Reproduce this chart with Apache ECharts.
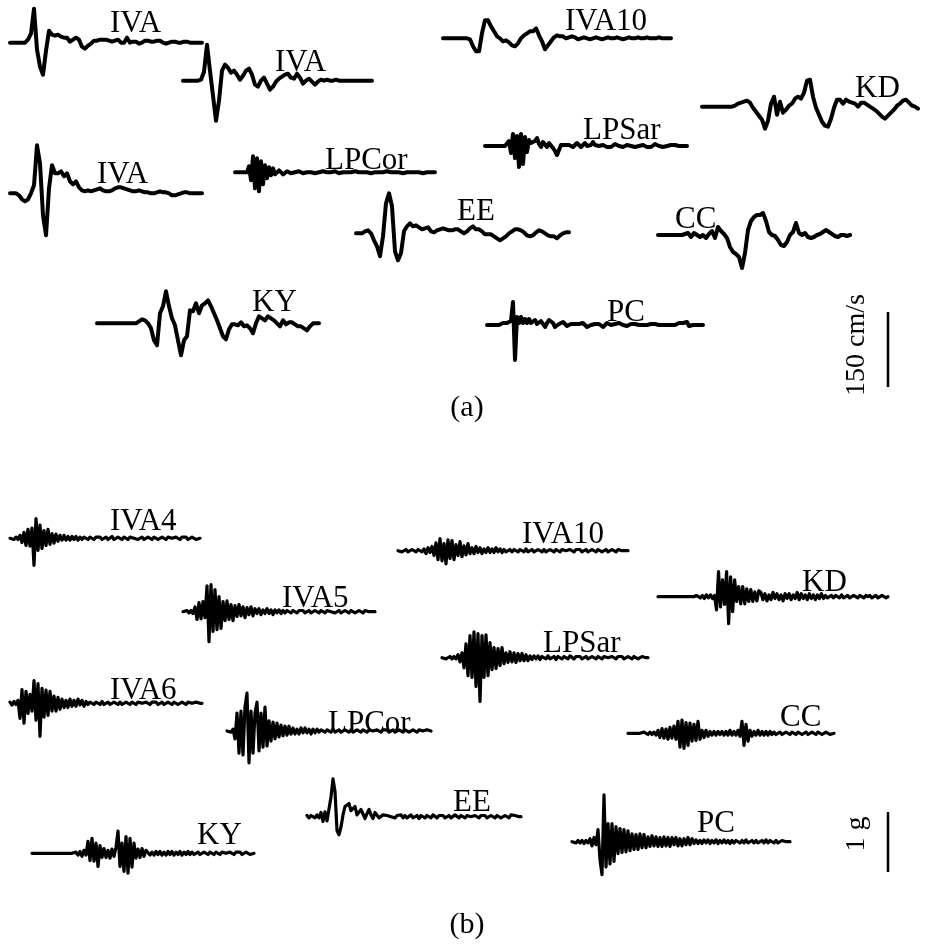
<!DOCTYPE html>
<html><head><meta charset="utf-8">
<script src="https://cdn.jsdelivr.net/npm/echarts@6/dist/echarts.min.js"></script>
<style>html,body{margin:0;padding:0;background:#fff}#c{width:933px;height:949px}</style>
</head><body><div id="c"></div>
<script>
// ---------- DATA ----------
// (a) ground velocity records, cm/s (uniform samples)
const velIVA_a = [0,0,0,0,0,0,6,18,68,-14,-48,-64,-16,24,16,14,16,12,10,10,2,6,10,6,-8,-12,-6,-2,4,4,6,6,6,4,2,4,6,0,0,10,0,2,2,-2,0,4,4,2,2,4,4,0,-2,0,2,2,0,0,2,2,0,0,0,0,0];
const velIVA_b = [0,0,0,0,0,0,2,18,72,20,-30,-80,-40,20,32,26,16,20,12,2,10,20,24,12,-8,-12,0,6,-6,-18,-12,-2,4,8,12,14,6,4,14,6,-6,0,4,-2,-8,-2,2,0,2,0,0,2,0,0,0,0,0,0,0,0,0,0,0,0];
const velIVA10 = [0,0,0,0,0,0,0,0,0,-2,-16,-26,-26,10,36,36,24,14,4,0,-6,-4,-8,-14,-16,-10,0,6,10,14,14,20,6,-6,-22,-14,-6,2,6,4,4,0,2,4,2,-2,0,2,0,-2,0,2,0,-2,0,2,0,0,2,0,-2,0,2,0,0,2,0,0,2,0,0,0,2,0,0,0,0];
const velKD = [0,0,0,0,0,0,0,0,0,0,0,2,6,8,10,12,8,-2,-10,-18,-26,-44,-28,6,20,-16,10,-12,-6,2,6,16,20,16,28,52,54,20,-2,-16,-30,-38,-40,-24,-2,14,14,6,14,10,8,6,0,8,8,4,0,-4,-8,-14,-20,-24,-18,-12,-6,2,6,12,14,8,2,0,-4];
const velLPSar = [0,0,0,0,0,0,0,0,0,0,0,-2,10,-14,24,-24,20,-42,24,-36,18,-12,12,6,6,10,16,4,-2,8,4,-2,6,2,-4,-10,-18,-8,2,6,2,-2,2,0,-2,2,6,2,-2,2,6,0,-4,2,8,2,-2,0,2,2,0,-2,-4,-2,2,4,4,0,-2,-2,0,2,2,0,-2,-2,-2,0,2,2,0,-2,-4,-2,2,4,4,0,-2,-2,0,0,0,2,2,2,2,0,0,0,0,0];
const velIVA_c = [0,0,0,-4,-12,-16,-12,0,16,96,60,-44,-84,10,56,40,40,44,34,40,24,18,24,12,6,4,6,4,6,8,10,6,4,4,6,10,12,12,10,8,6,4,4,6,4,2,2,0,0,2,4,2,2,0,-4,-4,-2,0,2,2,0,0,0,0,0];
const velLPCor = [0,0,0,0,0,0,0,12,-16,32,-32,28,-38,22,-24,14,-12,10,-6,8,-4,-2,4,2,-4,0,2,0,-2,-4,0,0,2,0,-2,0,0,2,0,0,-2,0,0,0,2,0,0,-2,0,0,2,0,-2,0,0,2,0,-2,0,0,2,0,0,-2,0,2,0,0,-2,0,0,2,0,-2,0,0,2,0,0,-2,0,2,0,0,-2,0,0,2,0,-2,0,2,0,0,-2,0,0,2,0,0,0];
const velEE = [0,0,0,4,6,0,-14,-26,-46,-6,60,80,54,-36,-54,-40,4,14,20,14,16,12,8,10,12,4,2,6,8,10,8,6,6,8,8,4,0,4,10,14,8,8,4,-2,-2,-2,-6,-10,-14,-10,-6,0,4,8,8,6,2,-4,-6,-4,2,6,4,0,-4,-6,-6,-10,-4,0,2,2];
const velCC = [0,0,0,0,0,0,0,0,0,2,4,-4,4,0,-4,0,-6,2,8,-6,16,8,2,-6,-24,-34,-38,-44,-66,-36,10,28,36,40,40,44,28,6,0,-2,-10,-20,-22,-14,0,6,24,4,0,4,-4,-6,-4,0,2,6,10,6,2,-2,-4,0,0,-2,0];
const velKY = [0,0,0,0,0,0,0,0,0,0,0,0,0,0,4,8,6,0,-10,-34,-44,20,34,64,34,10,-4,-34,-64,-34,-26,26,24,40,20,36,40,46,34,20,6,-10,-26,-32,-12,-2,-2,-4,2,-6,-4,-10,-20,0,14,10,6,14,10,6,0,-6,6,-2,2,2,-2,-6,-6,-10,-14,-6,0,0,0];
const velPC = [0,0,0,0,0,0,0,0,4,4,4,6,8,46,-70,16,4,16,4,12,4,12,4,6,10,2,2,8,6,-4,4,10,12,4,-4,0,2,6,6,4,-2,-2,2,4,2,0,2,4,4,0,-4,-2,0,0,2,4,2,-2,-4,0,4,2,0,0,2,2,4,2,0,-2,-2,0,2,4,2,0,0,0,0,0,0,2,2,4,2,0,0,0,0,0,0,0,0,0,0,2,4,4,4,6,6,-2,0,0,0,0,0,0,0];

// (b) ground acceleration records, g (uniform samples)
const accIVA4 = [0,0.02,-0.02,0.02,-0.02,0.05,-0.07,0.1,-0.12,0.15,-0.13,0.17,-0.45,0.33,-0.2,0.22,-0.17,0.13,-0.12,0.15,-0.1,0.08,-0.08,0.07,-0.05,0.05,-0.03,0.05,-0.03,0.03,-0.03,0.03,-0.02,0.03,-0.03,0.02,-0.02,0.02,0,-0.02,0.02,0,-0.02,0.02,0,0.02,-0.02,0,0.02,-0.02,0,0.03,-0.02,0,0.02,0,-0.02,0.02,0,-0.02,0.02,0,0,0.02,-0.02,0,0.02,-0.02,0,0.02,0,-0.02,0.02,0,-0.02,0,0.02,0,-0.02,0.02,0,0,-0.02,0.02,0,-0.02,0.02,0,0.02,-0.02,0,0.02,0,-0.02,0,0];
const accIVA10 = [0,0.02,-0.02,0,0.02,-0.02,0,0.02,0,-0.02,0.02,0,-0.02,0.03,-0.05,0.05,-0.03,0.07,-0.08,0.13,-0.15,0.2,-0.17,0.12,-0.22,0.18,-0.13,0.17,-0.15,0.1,-0.08,0.15,-0.1,0.08,-0.07,0.12,-0.05,0.05,-0.05,0.07,-0.03,0.05,-0.05,0.03,-0.03,0.05,-0.03,0.03,-0.03,0.05,-0.02,0.03,-0.03,0.02,-0.02,0,0.02,-0.02,0.02,0,-0.02,0.02,0,-0.02,0.03,-0.02,0,0.02,-0.02,0,0.02,0,-0.02,0.02,-0.02,0,0.02,0,-0.02,0.02,0,-0.02,0.02,0,0,-0.02,0.02,0,-0.02,0.02,0,0.02,-0.02,0,0.02,-0.02,0,0.02,0,-0.02,0.02,0,-0.02,0,0.02,-0.02,0,0.02,0,-0.02,0.02,0,0,-0.02,0,0];
const accIVA5 = [0,0,0.02,-0.02,0.02,-0.03,0.08,-0.13,0.15,-0.12,0.17,-0.1,0.43,-0.5,0.45,-0.33,0.37,-0.3,0.25,-0.28,0.17,-0.15,0.18,-0.13,0.12,-0.15,0.1,-0.08,0.12,-0.07,0.08,-0.1,0.07,-0.05,0.08,-0.07,0.05,-0.03,0.05,-0.05,0.03,-0.03,0.05,-0.03,0.03,-0.05,0.03,-0.02,0.03,-0.03,0.02,-0.02,0.02,0,-0.02,0.02,0,-0.02,0.02,0,0.02,-0.02,0,0.02,-0.02,0,0.02,0,-0.02,0.02,0,-0.02,0.02,0,0,0.02,-0.02,0,0.02,-0.02,0,0.02,0,-0.02,0.02,0,-0.02,0,0.02,0,-0.02,0.02,0,0,-0.02,0,0];
const accKD = [0,0,0,0,0,0,0,0,0,0,0,0,0,0,0,0,0,0,0,0.02,0,-0.02,0.02,-0.03,0.03,-0.02,0.03,-0.03,0.02,-0.22,0.42,-0.17,0.28,-0.13,0.42,-0.45,0.33,-0.25,0.28,-0.08,0.17,-0.12,0.17,-0.12,0.13,-0.08,0.12,-0.08,0.08,-0.07,0.1,0.07,-0.05,0.05,-0.07,0.03,-0.05,0.07,-0.03,0.05,-0.05,0.03,-0.07,0.05,-0.03,0.05,-0.05,0.03,-0.03,0.07,-0.05,0.05,-0.03,0.03,-0.05,0.05,-0.03,0.03,-0.05,0.03,-0.03,0.05,-0.03,0.02,-0.02,0,0.02,-0.02,0.02,0,-0.02,0.03,-0.02,0,0.02,-0.02,0,0.02,0,-0.02,0.02,0,-0.02,0.02,0,0.02,-0.02,0,0.02,-0.02,0,0.02,0,-0.02,0];
const accLPSar = [0,0.02,-0.02,0,0.02,-0.02,0.02,-0.02,0.05,-0.07,0.08,-0.17,0.23,-0.3,0.37,-0.33,0.43,-0.48,0.4,-0.73,0.37,-0.33,0.38,-0.3,0.25,-0.2,0.17,-0.18,0.15,-0.13,0.17,-0.1,0.08,-0.08,0.1,-0.07,0.08,-0.08,0.07,-0.05,0.07,-0.05,0.05,-0.05,0.03,-0.03,0.03,-0.02,0.03,-0.03,0.02,0,-0.02,0.03,-0.02,0,0.02,-0.03,0.02,0,-0.02,0.02,0,-0.02,0.03,0,-0.02,0.02,0,0.02,-0.02,0,0.02,-0.02,0,0.02,0,-0.02,0.02,0,-0.02,0.02,0,0,-0.02,0.02,0,-0.02,0.02,0,0.02,-0.02,0,0.02,0,-0.02,0.02,0,-0.02,0,0.02,0,0,0];
const accIVA6 = [0.02,-0.03,0.03,-0.02,0.05,-0.25,0.23,-0.33,0.2,-0.17,0.15,-0.13,0.38,-0.28,0.33,-0.55,0.25,-0.23,0.22,-0.2,0.2,-0.13,0.12,-0.13,0.1,-0.1,0.07,-0.07,0.05,-0.07,0.07,-0.05,0.05,-0.05,0.07,-0.03,0.05,-0.05,0.03,-0.02,0.02,0,-0.02,0.02,0,-0.02,0.03,-0.02,0,0.02,-0.02,0,0.02,0,-0.02,0.02,-0.02,0,0.02,0,-0.02,0.02,0,-0.02,0.02,0,0,-0.02,0.02,0,-0.02,0.02,0,0.02,-0.02,0,0.02,-0.02,0,0.02,0,-0.02,0.02,0,-0.02,0,0.02,0,-0.02,0.02,0,0,-0.02,0.02,0,0,0];
const accLPCor = [0,0.02,-0.02,0.03,-0.13,0.3,-0.37,0.33,-0.4,0.4,0.63,-0.53,0.33,-0.37,0.3,0.48,-0.33,0.3,-0.27,0.4,-0.25,0.17,-0.17,0.15,-0.13,0.13,-0.1,0.1,-0.08,0.08,-0.07,0.08,-0.05,0.05,-0.05,0.03,-0.05,0.05,-0.03,0.05,-0.03,0.03,-0.05,0.03,-0.03,0.03,-0.02,0.02,0,-0.02,0.02,0,-0.02,0.03,-0.02,0,0.02,-0.02,0,0.02,0,-0.02,0.02,-0.02,0,0.02,0,-0.02,0.02,0,-0.02,0.02,0,0,-0.02,0.02,0,-0.02,0.02,0,0.02,-0.02,0,0.02,-0.02,0,0.02,0,-0.02,0.02,0,-0.02,0,0.02,0,-0.02,0.02,0,0,-0.02,0.02,0,0];
const accCC = [0,0.02,0,-0.02,0,0.02,0,-0.02,0.02,0,-0.02,0.02,-0.02,0.02,-0.03,0.05,-0.07,0.08,-0.08,0.07,-0.1,0.1,-0.08,0.12,-0.1,0.2,-0.23,0.22,-0.25,0.18,-0.2,0.17,-0.13,0.15,-0.12,0.2,-0.1,0.05,-0.07,0.05,-0.05,0.03,-0.03,0.03,-0.03,0.03,-0.02,0.03,-0.03,0.03,-0.03,0.05,-0.03,0.03,-0.03,0.05,-0.05,0.2,-0.2,0.15,-0.13,0.05,-0.05,0.03,-0.03,0.05,-0.03,0.03,-0.03,0.03,-0.03,0.03,-0.02,0.02,-0.02,0,0.02,-0.02,0,0.02,0,-0.02,0.02,0,-0.02,0.02,0,-0.02,0,0.02,-0.02,0,0.02,0,-0.02,0.02,0,-0.02,0,0.02,0,-0.02,0,0];
const accEE = [0.02,-0.02,0.02,0,-0.02,0.03,-0.02,0.07,-0.08,0.08,-0.07,-0.05,0.33,0.63,0.42,-0.23,-0.3,-0.17,0.03,0.17,0.2,0.22,0.1,0.13,0.17,0.03,0,0.12,0.13,-0.03,0.05,0.12,0.03,-0.03,0.07,0.08,-0.02,-0.05,0.03,0.05,0.02,0.05,0,0.03,-0.02,0.02,0,0.03,-0.02,0.02,-0.02,0,0.03,-0.02,0,0.02,-0.03,0.02,0,-0.02,0.02,0,-0.02,0.03,0,-0.02,0.02,0,0.02,-0.02,0,0.02,-0.02,0,0.03,0,-0.02,0.02,0,-0.02,0.02,0,0,-0.02,0.02,0,-0.02,0.02,0,0.02,-0.02,0,0.02,0,-0.02,0.02,0,-0.02,0,0.02,0,-0.02,0.03,0,0.02,0,0,0];
const accKY = [0,0,0,0,0,0,0,0,0,0,0,0,0,0,0,0,0,0,0,0,0,0,0.02,-0.03,0.03,-0.05,0.05,-0.03,0.2,-0.12,0.25,-0.13,0.17,-0.22,0.13,-0.07,0.08,-0.07,0.05,-0.08,0.07,-0.05,0.1,0.37,-0.22,0.17,-0.3,0.28,-0.33,0.25,-0.23,0.17,-0.08,0.07,-0.07,0.08,-0.05,0.05,0.03,-0.03,0.02,-0.03,0.03,-0.02,0.03,-0.03,0.02,-0.03,0.03,-0.02,0.03,-0.03,0.02,-0.02,0.03,-0.03,0.02,-0.02,0.03,-0.02,0.02,-0.02,0,0.02,-0.02,0,0.02,0,-0.02,0.02,0,-0.02,0.02,0,-0.02,0.02,0,0,-0.02,0.02,0,-0.02,0.02,0,0.02,-0.02,0,0.02,0,-0.02,0,0];
const accPC = [0,0.02,-0.02,0.02,-0.02,0.02,-0.03,0.02,-0.02,0.05,-0.07,0.07,-0.05,0.2,-0.3,-0.55,0.78,-0.42,0.3,-0.37,0.3,-0.33,0.25,-0.2,0.22,-0.18,0.2,-0.17,0.18,-0.15,0.13,-0.13,0.12,-0.13,0.13,-0.1,0.12,-0.1,0.08,-0.08,0.1,-0.07,0.08,-0.08,0.07,-0.08,0.08,-0.07,0.07,-0.08,0.07,-0.05,0.07,-0.07,0.05,-0.07,0.05,-0.05,0.07,-0.05,0.05,-0.03,0.03,-0.03,0.02,-0.03,0.03,-0.02,0.03,-0.03,0.02,-0.02,0.03,-0.03,0.02,-0.02,0.03,-0.02,0.02,-0.03,0.02,-0.02,0.02,0,-0.02,0.02,-0.02,0.03,-0.02,0,0.02,-0.02,0.02,-0.02,0,0.02,-0.02,0.03,-0.02,0.02,0,-0.02,0.02,-0.02,0,0.02,0,0,0,0];

const velNames = ['IVA','IVA','IVA10','KD','LPSar','IVA','LPCor','EE','CC','KY','PC'];
const accNames = ['IVA4','IVA10','IVA5','KD','LPSar','IVA6','LPCor','CC','EE','KY','PC'];
const velScale = 150;   // cm/s, scale bar
const accScale = 1;     // g, scale bar

// ---------- LAYOUT (pixels) ----------
const velLayout = [
  {x0:10,x1:202,base:42.7,lx:110,ly:24},
  {x0:183,x1:372,base:80.7,lx:275,ly:63},
  {x0:443,x1:671,base:38.3,lx:565,ly:22},
  {x0:702,x1:918,base:106.7,lx:855,ly:89},
  {x0:485,x1:687,base:146,lx:583,ly:131},
  {x0:10,x1:202,base:193.3,lx:97,ly:175},
  {x0:235,x1:435,base:172.3,lx:325,ly:161},
  {x0:356,x1:569,base:233.3,lx:457,ly:212},
  {x0:658,x1:850,base:235,lx:675,ly:220},
  {x0:97,x1:319,base:323.3,lx:252,ly:303},
  {x0:487,x1:703,base:325,lx:607,ly:313}
];
const accLayout = [
  {x0:10,x1:200,base:538.3,lx:110,ly:522},
  {x0:398,x1:628,base:550.7,lx:522,ly:535},
  {x0:183,x1:375,base:611.7,lx:282,ly:599},
  {x0:658,x1:888,base:596.7,lx:802,ly:583},
  {x0:442,x1:648,base:657.7,lx:543,ly:644},
  {x0:10,x1:202,base:703.3,lx:110,ly:691},
  {x0:227,x1:431,base:731,lx:328,ly:724},
  {x0:628,x1:834,base:733.3,lx:780,ly:718},
  {x0:307,x1:521,base:816.7,lx:453,ly:803},
  {x0:32,x1:254,base:853.3,lx:197,ly:836},
  {x0:572,x1:790,base:841.7,lx:697,ly:824}
];

const velTraces = [velIVA_a,velIVA_b,velIVA10,velKD,velLPSar,velIVA_c,velLPCor,velEE,velCC,velKY,velPC];
const accTraces = [accIVA4,accIVA10,accIVA5,accKD,accLPSar,accIVA6,accLPCor,accCC,accEE,accKY,accPC];

const FONT = '"Liberation Serif","Times New Roman",serif';
const panels = [
  {traces:velTraces, names:velNames, layout:velLayout, half:75, perPx:2, lw:4},
  {traces:accTraces, names:accNames, layout:accLayout, half:60, perPx:1/60, lw:3.2}
];

const grid=[], xAxis=[], yAxis=[], series=[], graphic=[];
let gi = 0;
panels.forEach(p => {
  p.traces.forEach((vals, j) => {
    const L = p.layout[j];
    const top = Math.max(0, L.base - p.half);
    grid.push({left:L.x0, top:top, width:L.x1-L.x0, height:(L.base-top)+p.half, containLabel:false});
    xAxis.push({type:'category', gridIndex:gi, boundaryGap:false, show:false, data:vals.map((_,i)=>i)});
    yAxis.push({type:'value', gridIndex:gi, show:false, min:-p.half*p.perPx, max:(L.base-top)*p.perPx});
    series.push({type:'line', name:p.names[j], xAxisIndex:gi, yAxisIndex:gi, data:vals, symbol:'none',
      clip:false, silent:true, animation:false, lineStyle:{color:'#000', width:p.lw, join:'round', cap:'round'}});
    graphic.push({type:'text', x:L.lx, y:L.ly, z:100, silent:true,
      style:{text:p.names[j], font:'31px '+FONT, fill:'#000', align:'left', verticalAlign:'middle'}});
    gi++;
  });
});

// scale bars
const velBarLen = velScale / panels[0].perPx;
const accBarLen = accScale / panels[1].perPx;
graphic.push({type:'line', silent:true, shape:{x1:888,y1:312,x2:888,y2:312+velBarLen}, style:{stroke:'#000', lineWidth:2.5}});
graphic.push({type:'text', x:857, y:345, rotation:Math.PI/2, silent:true,
  style:{text:velScale+' cm/s', font:'28px '+FONT, fill:'#000', align:'center', verticalAlign:'middle'}});
graphic.push({type:'line', silent:true, shape:{x1:888,y1:812,x2:888,y2:812+accBarLen}, style:{stroke:'#000', lineWidth:2.5}});
graphic.push({type:'text', x:857, y:834, rotation:Math.PI/2, silent:true,
  style:{text:accScale+' g', font:'28px '+FONT, fill:'#000', align:'center', verticalAlign:'middle'}});
// panel captions
graphic.push({type:'text', x:467, y:408, silent:true, style:{text:'(a)', font:'30px '+FONT, fill:'#000', align:'center', verticalAlign:'middle'}});
graphic.push({type:'text', x:467, y:925, silent:true, style:{text:'(b)', font:'30px '+FONT, fill:'#000', align:'center', verticalAlign:'middle'}});

const chart = echarts.init(document.getElementById('c'), null, {renderer:'canvas'});
chart.setOption({backgroundColor:'#fff', animation:false, grid, xAxis, yAxis, series, graphic});
</script></body></html>
